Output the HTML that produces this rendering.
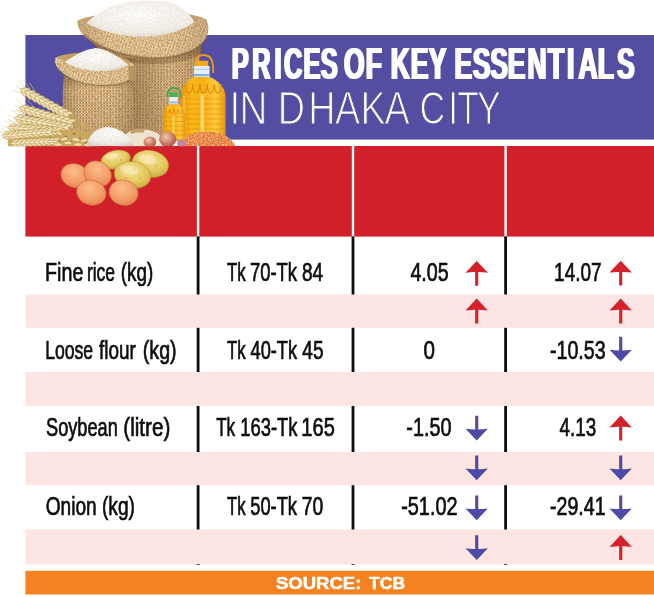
<!DOCTYPE html>
<html lang="en"><head><meta charset="utf-8"><title>Prices of key essentials in Dhaka city</title>
<style>html,body{margin:0;padding:0;background:#fff}svg{display:block}text{font-family:"Liberation Sans",sans-serif}</style></head>
<body>
<svg width="654" height="597" viewBox="0 0 654 597">
<rect x="25.4" y="35" width="629" height="104.600" fill="#534ea2"/>
<rect x="25.4" y="146" width="629" height="90.600" fill="#d2202a"/>
<rect x="196.9" y="146" width="2.4" height="90.600" fill="#fff"/>
<rect x="351.8" y="146" width="2.4" height="90.600" fill="#fff"/>
<rect x="504.4" y="146" width="2.4" height="90.600" fill="#fff"/>
<rect x="25.4" y="294.5" width="629" height="33.3" fill="#fce5e2"/>
<rect x="25.4" y="372.0" width="629" height="34.0" fill="#fce5e2"/>
<rect x="25.4" y="452.0" width="629" height="33.2" fill="#fce5e2"/>
<rect x="25.4" y="529.5" width="629" height="34.9" fill="#fce5e2"/>
<rect x="196.7" y="236.4" width="2.8" height="58.1" fill="#0d0d0d"/>
<rect x="351.6" y="236.4" width="2.8" height="58.1" fill="#0d0d0d"/>
<rect x="504.2" y="236.4" width="2.8" height="58.1" fill="#0d0d0d"/>
<rect x="196.7" y="327.8" width="2.8" height="44.2" fill="#0d0d0d"/>
<rect x="351.6" y="327.8" width="2.8" height="44.2" fill="#0d0d0d"/>
<rect x="504.2" y="327.8" width="2.8" height="44.2" fill="#0d0d0d"/>
<rect x="196.7" y="406.0" width="2.8" height="46.0" fill="#0d0d0d"/>
<rect x="351.6" y="406.0" width="2.8" height="46.0" fill="#0d0d0d"/>
<rect x="504.2" y="406.0" width="2.8" height="46.0" fill="#0d0d0d"/>
<rect x="196.7" y="485.2" width="2.8" height="44.3" fill="#0d0d0d"/>
<rect x="351.6" y="485.2" width="2.8" height="44.3" fill="#0d0d0d"/>
<rect x="504.2" y="485.2" width="2.8" height="44.3" fill="#0d0d0d"/>
<rect x="196.6" y="564.1" width="3" height="0.9" fill="#333"/>
<rect x="351.5" y="564.1" width="3" height="0.9" fill="#333"/>
<rect x="504.1" y="564.1" width="3" height="0.9" fill="#333"/>
<rect x="25.4" y="570.800" width="629" height="23.700" fill="#f58220"/>
<defs><filter id="fat" x="-5%" y="-5%" width="110%" height="110%"><feMorphology operator="dilate" radius="1 0"/></filter></defs><defs>
  <pattern id="bur" width="3" height="3" patternUnits="userSpaceOnUse">
    <rect width="3" height="3" fill="#d8b27c"/>
    <rect width="1.5" height="1.5" fill="#f1dcb2"/>
    <rect x="1.5" y="1.5" width="1.5" height="1.5" fill="#e4c391"/>
    <rect x="1.5" y="0" width="1.5" height="1.5" fill="#b4824c"/>
  </pattern>
  <pattern id="bur2" width="3" height="3" patternUnits="userSpaceOnUse" patternTransform="rotate(18)">
    <rect width="3" height="3" fill="#e2c08c"/>
    <rect width="1.5" height="1.5" fill="#f8e9c6"/>
    <rect x="1.5" y="1.5" width="1.5" height="1.5" fill="#eed3a4"/>
    <rect x="1.5" y="0" width="1.5" height="1.5" fill="#c0915a"/>
  </pattern>
  <linearGradient id="sackShade" x1="0" y1="0" x2="1" y2="0">
    <stop offset="0" stop-color="#6b4a25" stop-opacity=".35"/>
    <stop offset=".25" stop-color="#6b4a25" stop-opacity="0"/>
    <stop offset=".7" stop-color="#6b4a25" stop-opacity="0"/>
    <stop offset="1" stop-color="#6b4a25" stop-opacity=".3"/>
  </linearGradient>
  <linearGradient id="sackShadeV" x1="0" y1="0" x2="0" y2="1">
    <stop offset="0" stop-color="#5a3c1c" stop-opacity=".45"/>
    <stop offset=".25" stop-color="#5a3c1c" stop-opacity="0"/>
    <stop offset="1" stop-color="#5a3c1c" stop-opacity=".15"/>
  </linearGradient>
  <linearGradient id="between" gradientUnits="userSpaceOnUse" x1="128" y1="0" x2="172" y2="0">
    <stop offset="0" stop-color="#5a3a18" stop-opacity=".38"/>
    <stop offset="1" stop-color="#5a3a18" stop-opacity="0"/>
  </linearGradient>
  <radialGradient id="rice" cx=".5" cy=".35" r=".7">
    <stop offset="0" stop-color="#ffffff"/>
    <stop offset=".7" stop-color="#f3efe8"/>
    <stop offset="1" stop-color="#d9d2c4"/>
  </radialGradient>
  <linearGradient id="oil" x1="0" y1="0" x2="1" y2="0">
    <stop offset="0" stop-color="#e8940e"/>
    <stop offset=".25" stop-color="#f9b81a"/>
    <stop offset=".5" stop-color="#f7ad16"/>
    <stop offset=".78" stop-color="#fdcb3c"/>
    <stop offset="1" stop-color="#ea9710"/>
  </linearGradient>
  <radialGradient id="egg" cx=".4" cy=".35" r=".75">
    <stop offset="0" stop-color="#fabd8c"/>
    <stop offset=".6" stop-color="#f39c66"/>
    <stop offset="1" stop-color="#e07a46"/>
  </radialGradient>
  <radialGradient id="pot" cx=".45" cy=".35" r=".75">
    <stop offset="0" stop-color="#f4e29a"/>
    <stop offset=".6" stop-color="#e3c55a"/>
    <stop offset="1" stop-color="#bd9a36"/>
  </radialGradient>
  <radialGradient id="onion" cx=".4" cy=".35" r=".7">
    <stop offset="0" stop-color="#f1c9b4"/>
    <stop offset=".55" stop-color="#cf8268"/>
    <stop offset="1" stop-color="#9c4f3e"/>
  </radialGradient>
  <g id="ear">
    <path d="M0,0 L84,0" stroke="#c9a85e" stroke-width="1.2" fill="none"/>
    <g fill="#f1e2b2" stroke="#a9843c" stroke-width=".55">
    <ellipse cx="4.0" cy="-2.3" rx="4.0" ry="1.7" transform="rotate(-22 4.0 -2.3)"/>
    <ellipse cx="4.0" cy="2.3" rx="4.0" ry="1.7" transform="rotate(22 4.0 2.3)"/>
    <ellipse cx="9.4" cy="-2.3" rx="4.6" ry="1.7" transform="rotate(-22 9.4 -2.3)"/>
    <ellipse cx="9.4" cy="2.3" rx="4.6" ry="1.7" transform="rotate(22 9.4 2.3)"/>
    <ellipse cx="14.8" cy="-2.3" rx="4.6" ry="1.7" transform="rotate(-22 14.8 -2.3)"/>
    <ellipse cx="14.8" cy="2.3" rx="4.6" ry="1.7" transform="rotate(22 14.8 2.3)"/>
    <ellipse cx="20.2" cy="-2.3" rx="4.6" ry="1.7" transform="rotate(-22 20.2 -2.3)"/>
    <ellipse cx="20.2" cy="2.3" rx="4.6" ry="1.7" transform="rotate(22 20.2 2.3)"/>
    <ellipse cx="25.6" cy="-2.3" rx="4.6" ry="1.7" transform="rotate(-22 25.6 -2.3)"/>
    <ellipse cx="25.6" cy="2.3" rx="4.6" ry="1.7" transform="rotate(22 25.6 2.3)"/>
    <ellipse cx="31.0" cy="-2.3" rx="4.6" ry="1.7" transform="rotate(-22 31.0 -2.3)"/>
    <ellipse cx="31.0" cy="2.3" rx="4.6" ry="1.7" transform="rotate(22 31.0 2.3)"/>
    <ellipse cx="36.4" cy="-2.3" rx="4.6" ry="1.7" transform="rotate(-22 36.4 -2.3)"/>
    <ellipse cx="36.4" cy="2.3" rx="4.6" ry="1.7" transform="rotate(22 36.4 2.3)"/>
    <ellipse cx="41.8" cy="-2.3" rx="4.6" ry="1.7" transform="rotate(-22 41.8 -2.3)"/>
    <ellipse cx="41.8" cy="2.3" rx="4.6" ry="1.7" transform="rotate(22 41.8 2.3)"/>
    <ellipse cx="47.2" cy="-2.3" rx="4.6" ry="1.7" transform="rotate(-22 47.2 -2.3)"/>
    <ellipse cx="47.2" cy="2.3" rx="4.6" ry="1.7" transform="rotate(22 47.2 2.3)"/>
    <ellipse cx="52.6" cy="-2.3" rx="4.0" ry="1.7" transform="rotate(-22 52.6 -2.3)"/>
    <ellipse cx="52.6" cy="2.3" rx="4.0" ry="1.7" transform="rotate(22 52.6 2.3)"/>
    </g><g fill="#fbf2d2" stroke="#b08a40" stroke-width=".4">
    <ellipse cx="2.0" cy="0" rx="3.4" ry="1.3"/>
    <ellipse cx="7.4" cy="0" rx="3.4" ry="1.3"/>
    <ellipse cx="12.8" cy="0" rx="3.4" ry="1.3"/>
    <ellipse cx="18.2" cy="0" rx="3.4" ry="1.3"/>
    <ellipse cx="23.6" cy="0" rx="3.4" ry="1.3"/>
    <ellipse cx="29.0" cy="0" rx="3.4" ry="1.3"/>
    <ellipse cx="34.4" cy="0" rx="3.4" ry="1.3"/>
    <ellipse cx="39.8" cy="0" rx="3.4" ry="1.3"/>
    <ellipse cx="45.2" cy="0" rx="3.4" ry="1.3"/>
    <ellipse cx="50.6" cy="0" rx="3.4" ry="1.3"/>
    </g>
    <g stroke="#e2cf95" stroke-width=".5"><path d="M3,-3 L-6,-7 M8,-4 L-2,-9 M3,3 L-7,5 M14,-4 L4,-10 M1,0 L-8,-1"/></g>
    </g>
  <filter id="noise" x="0" y="0" width="100%" height="100%">
    <feTurbulence type="fractalNoise" baseFrequency="0.55" numOctaves="2" seed="7" result="n"/>
    <feColorMatrix in="n" type="matrix" values="0 0 0 0 0.42  0 0 0 0 0.26  0 0 0 0 0.1  0 0 0 2.2 -0.95" result="dark"/>
    <feColorMatrix in="n" type="matrix" values="0 0 0 0 1  0 0 0 0 0.93  0 0 0 0 0.78  0 0 -2.2 0 0.85" result="light"/>
    <feMerge result="m"><feMergeNode in="SourceGraphic"/><feMergeNode in="light"/><feMergeNode in="dark"/></feMerge>
    <feComposite in="m" in2="SourceGraphic" operator="in"/>
  </filter>
  <filter id="speck" x="0" y="0" width="100%" height="100%">
    <feTurbulence type="fractalNoise" baseFrequency="0.7" numOctaves="2" seed="3" result="n"/>
    <feColorMatrix in="n" type="matrix" values="0 0 0 0 0.97  0 0 0 0 0.66  0 0 0 0 0.36  0 0 2.600 0 -1.150" result="light"/>
    <feColorMatrix in="n" type="matrix" values="0 0 0 0 0.72  0 0 0 0 0.30  0 0 0 0 0.10  0 2.400 0 0 -1.100" result="dark"/>
    <feMerge result="m"><feMergeNode in="SourceGraphic"/><feMergeNode in="light"/><feMergeNode in="dark"/></feMerge>
    <feComposite in="m" in2="SourceGraphic" operator="in"/>
  </filter>
  <filter id="grain" x="0" y="0" width="100%" height="100%">
    <feTurbulence type="fractalNoise" baseFrequency="0.8" numOctaves="2" seed="11" result="n"/>
    <feColorMatrix in="n" type="matrix" values="0 0 0 0 0.70  0 0 0 0 0.66  0 0 0 0 0.58  0 0 1.800 0 -0.800" result="dark"/>
    <feMerge result="m"><feMergeNode in="SourceGraphic"/><feMergeNode in="dark"/></feMerge>
    <feComposite in="m" in2="SourceGraphic" operator="in"/>
  </filter>
  <clipPath id="foodclip"><rect x="0" y="0" width="260" height="146.2"/></clipPath>
</defs>
<g clip-path="url(#foodclip)">
  <!-- big sack body -->
  <path id="bigbody" d="M84,34 C92,44 100,50 108,54 L118,140 L200,142 C198,110 194,80 203,40 C180,60 120,58 84,34 Z" fill="url(#bur)" filter="url(#noise)"/>
  <path d="M84,34 C92,44 100,50 108,54 L118,140 L200,142 C198,110 194,80 203,40 C180,60 120,58 84,34 Z" fill="url(#sackShade)"/>
  <path d="M84,34 C92,44 100,50 108,54 L118,140 L200,142 C198,110 194,80 203,40 C180,60 120,58 84,34 Z" fill="url(#sackShadeV)"/>
  <path d="M108,54 C122,58 140,60 172,58 L172,140 L118,140 Z" fill="url(#between)"/>
  <path d="M84,34 C98,48 128,58 156,58 C176,58 196,52 203,42 L202,52 C190,66 130,70 100,52 Z" fill="#5a3a18" opacity=".28"/>
  <!-- big sack back rim -->
  <path d="M77.500,21 C95,10 190,8 206.500,20 L205,30 L82,30 Z" fill="#c3a06c"/>
  <!-- rice -->
  <path d="M85,24 C92,17 104,8 120,3.500 C132,0.500 150,-0.500 166,1.500 C180,4 190,13 195,23 C170,44 120,42 85,24 Z" fill="url(#rice)" filter="url(#grain)"/>
  <!-- big sack front rim -->
  <path d="M77.500,21 C80,18.500 84,19.500 88,24 C118,40 165,42 193,23 C198,18 203,17 206.500,20 C209.500,26 209,34 205,40 C196,52 176,58 156,58 C128,58 98,48 84,36 C79,30 76.500,25 77.500,21 Z" fill="url(#bur2)" filter="url(#noise)"/>
  <path d="M77.500,21 C80,18.500 84,19.500 88,24 C118,40 165,42 193,23 C198,18 203,17 206.500,20 C209.500,26 209,34 205,40 C196,52 176,58 156,58 C128,58 98,48 84,36 C79,30 76.500,25 77.500,21 Z" fill="url(#sackShade)" opacity=".6"/>
  <path d="M84,34 C98,48 128,58 156,58 C176,58 196,52 205,40" fill="none" stroke="#7a5630" stroke-opacity=".45" stroke-width="2"/>
  <!-- small sack body -->
  <path d="M64,74 C62,95 62,118 66,142 L134,142 C136,120 134,98 131,72 C110,88 80,86 62,74 Z" fill="url(#bur)" filter="url(#noise)"/>
  <path d="M64,74 C62,95 62,118 66,142 L134,142 C136,120 134,98 131,72 C110,88 80,86 62,74 Z" fill="url(#sackShade)"/>
  <path d="M64,74 C62,95 62,118 66,142 L134,142 C136,120 134,98 131,72 C110,88 80,86 62,74 Z" fill="url(#sackShadeV)"/>
  <!-- small sack back rim -->
  <path d="M55,58 C70,50 120,50 133,64 L130,70 L60,70 Z" fill="#c3a06c"/>
  <!-- flour -->
  <path d="M64,62 C74,56 84,49 95,48 C106,48 118,56 129,65 C112,76 82,74 64,62 Z" fill="url(#rice)" filter="url(#grain)"/>
  <!-- small sack front rim -->
  <path d="M55,58 C57,56 61,58 65,62 C84,73 110,74 128,65 C130,62 132,62 134,65 C136,70 134,76 130,80 C120,86 104,86 94,85 C80,84 66,78 59,70 C55,65 54,61 55,58 Z" fill="url(#bur2)" filter="url(#noise)"/>
  <path d="M59,70 C66,78 80,84 94,85 C104,86 120,86 130,80" fill="none" stroke="#7a5630" stroke-opacity=".45" stroke-width="1.6"/>
  <path d="M128,66 L134,66 L136,82 L129,80 Z" fill="#b8945f"/>
  <!-- string -->
  <path d="M113,107 C116,112 112,118 115,123" stroke="#d9c39a" stroke-width="1" fill="none"/>
  <!-- big bottle -->
  <path d="M196.500,62 C196,55.500 202,54.300 206.500,55.500 C212,57 213.200,62 213.200,73" fill="none" stroke="#f2961a" stroke-width="1.9"/>
  <rect x="195.300" y="60.800" width="13" height="5.600" rx="1" fill="#f6a81c"/>
  <rect x="194" y="66" width="15.500" height="11.500" fill="#e6eef6"/>
  <rect x="194" y="68.500" width="15.500" height="1.500" fill="#b9d3ec"/>
  <rect x="194" y="74" width="15.500" height="2.200" fill="#86b1de"/>
  <path d="M194,77 L209.500,77 C217,80 225,86 225.500,96 L225.500,134 Q225.500,138.500 221,138.500 L185,138.500 Q180.500,138.500 180.500,134 L180.500,96 C181,86 188,80 194,77 Z" fill="url(#oil)"/>
  <path d="M185.500,84 q0.500,9 3.600,9 q3.100,0 3.600,-9 q0.500,9 3.600,9 q3.100,0 3.600,-9 q0.500,9 3.600,9 q3.100,0 3.600,-9 q0.500,9 3.600,9 q3.100,0 3.600,-9 q0.500,9 3.600,9 q3.100,0 3.600,-9" fill="none" stroke="#d77f06" stroke-width="1.100" opacity=".85"/>
  <g stroke="#de8a0a" stroke-width=".8" opacity=".75"><path d="M181,99 H225 M181,104 H225 M181,109 H225 M181,114 H225 M181,119 H225 M181,124 H225 M181,129 H225 M181,134 H225"/></g>
  <rect x="200.500" y="94" width="3.600" height="40" fill="#ffe68a" opacity=".75"/>
  <rect x="183" y="96" width="2.500" height="38" fill="#ffd45a" opacity=".5"/>
  <!-- small bottle -->
  <path d="M167.600,97 C166.600,89.500 171.500,87.600 175,88 C179.500,88.500 181,92 180.400,97.500" fill="none" stroke="#3aa845" stroke-width="1.700"/>
  <rect x="169.300" y="92.500" width="8.400" height="4.500" rx=".8" fill="#45b34f"/>
  <rect x="169.300" y="97" width="8.400" height="7.500" fill="#e8f0f5"/>
  <rect x="169.300" y="101.500" width="8.400" height="1.800" fill="#8fb9e2"/>
  <path d="M169.300,104.500 L177.700,104.500 C182,107 185,110 185,115 L185,136 Q185,139.500 182,139.500 L166,139.500 Q163,139.500 163,136 L163,115 C163,110 165.500,107 169.300,104.500 Z" fill="url(#oil)"/>
  <path d="M165.500,109 q0.400,5 2.100,5 q1.700,0 2.100,-5 q0.400,5 2.100,5 q1.700,0 2.100,-5 q0.400,5 2.100,5 q1.700,0 2.100,-5 q0.400,5 2.100,5 q1.700,0 2.100,-5" fill="none" stroke="#d77f06" stroke-width=".8" opacity=".8"/>
  <g stroke="#de8a0a" stroke-width=".7" opacity=".75"><path d="M163,117 H185 M163,121.500 H185 M163,126 H185 M163,130.500 H185 M163,135 H185"/></g>
  <rect x="172.500" y="116" width="2" height="20" fill="#ffe68a" opacity=".7"/>
  <!-- lentils -->
  <path d="M178.500,146.500 C181,139 190,132.600 201,132 C208,131.600 214,131.800 219,133 C227,135 233,140 235.800,146.500 Z" fill="#e2762e" filter="url(#speck)"/>
  <!-- wheat -->
  <g>
    <path d="M8,140 C22,129 60,125 90,133 L98,147 L8,147 Z" fill="#c8a862"/>
    <g fill="#8a6228" opacity=".7"><circle cx="58" cy="133" r="1.3"/><circle cx="66" cy="137" r="1.4"/><circle cx="74" cy="133.500" r="1.2"/><circle cx="80" cy="139" r="1.4"/><circle cx="61" cy="141" r="1.3"/><circle cx="71" cy="142" r="1.3"/><circle cx="50" cy="138" r="1.2"/><circle cx="86" cy="143" r="1.2"/><circle cx="40" cy="141" r="1.1"/></g>
    <use href="#ear" transform="translate(21.5,89.5) rotate(29)"/>
    <use href="#ear" transform="translate(20.5,108) rotate(16.500)"/>
    <use href="#ear" transform="translate(16,118) rotate(11)"/>
    <use href="#ear" transform="translate(9,127.500) rotate(4) scale(.95)"/>
    <use href="#ear" transform="translate(3,136) rotate(-5) scale(.9)"/>
    <use href="#ear" transform="translate(12,143.500) rotate(-3) scale(.85)"/>
    <g fill="#f0e0ae" stroke="#a9843c" stroke-width=".4">
      <ellipse cx="58" cy="144.500" rx="4" ry="1.7"/><ellipse cx="68" cy="143" rx="4" ry="1.7"/><ellipse cx="78" cy="144.500" rx="4" ry="1.7"/><ellipse cx="88" cy="145" rx="4" ry="1.7"/>
      <ellipse cx="64" cy="139" rx="4" ry="1.7" transform="rotate(-15 64 139)"/><ellipse cx="76" cy="139.500" rx="4" ry="1.7" transform="rotate(10 76 139.500)"/><ellipse cx="84" cy="140.500" rx="3.6" ry="1.6" transform="rotate(-10 84 140.500)"/>
    </g>
  </g>
  <!-- scoop / cloth -->
  <path d="M120,146.500 C122,136 128,130.500 136,129.500 C146,128.300 156,131 160.500,136 C163,139 164,143 164,146.500 Z" fill="#efe4cf"/>
  <path d="M130,131.500 C134,128.600 141,128 145,129.600 L143,133 C139,132 134,132.600 131.500,134 Z" fill="#c8a16a"/>
  <!-- flour pile -->
  <path d="M86,146.500 C88,136 96,127.500 106,127 C116,126.600 128,132 135,146.500 Z" fill="url(#rice)" filter="url(#grain)"/>
  <!-- onions -->
  <ellipse cx="149.800" cy="142" rx="6.300" ry="5.600" fill="url(#onion)"/>
  <ellipse cx="167.700" cy="139.300" rx="8.600" ry="7.800" fill="url(#onion)"/>
  <ellipse cx="181.600" cy="143.500" rx="4.600" ry="3.600" fill="#c585a0"/>
</g>
<!-- eggs and potatoes -->
<g>
  <ellipse cx="115.6" cy="159.6" rx="15" ry="9.3" fill="url(#pot)" stroke="#9a7a22" stroke-opacity=".5" stroke-width=".7" transform="rotate(-12 115.6 158.9)"/>
  <ellipse cx="150.4" cy="163.9" rx="18.5" ry="13.5" fill="url(#pot)" stroke="#9a7a22" stroke-opacity=".5" stroke-width=".7" transform="rotate(12 150.4 163.9)"/>
  <ellipse cx="132.5" cy="175" rx="18.5" ry="13.5" fill="url(#pot)" stroke="#9a7a22" stroke-opacity=".5" stroke-width=".7" transform="rotate(10 132.5 175)"/>
  <g fill="#fbf1c4" opacity=".55"><ellipse cx="112" cy="156" rx="7" ry="3" transform="rotate(-12 112 156)"/><ellipse cx="147" cy="159" rx="9" ry="4.500" transform="rotate(12 147 159)"/><ellipse cx="129" cy="170" rx="9" ry="4.500" transform="rotate(10 129 170)"/></g>
  <g fill="#9c7a2a" opacity=".6"><circle cx="121" cy="160" r=".7"/><circle cx="156" cy="166" r=".8"/><circle cx="140" cy="178" r=".8"/><circle cx="126" cy="178" r=".7"/><circle cx="150" cy="171" r=".6"/><circle cx="135" cy="169" r=".6"/><circle cx="109" cy="161" r=".6"/></g>
  <ellipse cx="75" cy="175.8" rx="14.5" ry="12" fill="url(#egg)" stroke="#b9552e" stroke-opacity=".55" stroke-width=".8" transform="rotate(20 75 175.8)"/>
  <ellipse cx="97.7" cy="173.8" rx="14.5" ry="12.3" fill="url(#egg)" stroke="#b9552e" stroke-opacity=".55" stroke-width=".8" transform="rotate(35 97.7 173.8)"/>
  <ellipse cx="91.4" cy="192.7" rx="15" ry="12.5" fill="url(#egg)" stroke="#b9552e" stroke-opacity=".55" stroke-width=".8" transform="rotate(15 91.4 192.7)"/>
  <ellipse cx="123.6" cy="192.7" rx="14.8" ry="12.8" fill="url(#egg)" stroke="#b9552e" stroke-opacity=".55" stroke-width=".8" transform="rotate(15 123.6 192.7)"/>
</g>

<path transform="translate(476.7,261.0)" fill="#d5212b" d="M0,0 L11.2,11.8 Q5,11 1.55,11.1 V24.8 H-1.55 V11.1 Q-5,11 -11.2,11.8 Z"/>
<path transform="translate(620.7,260.8)" fill="#d5212b" d="M0,0 L11.2,11.8 Q5,11 1.55,11.1 V24.8 H-1.55 V11.1 Q-5,11 -11.2,11.8 Z"/>
<path transform="translate(476.7,298.6)" fill="#d5212b" d="M0,0 L11.2,11.8 Q5,11 1.55,11.1 V24.8 H-1.55 V11.1 Q-5,11 -11.2,11.8 Z"/>
<path transform="translate(620.7,298.6)" fill="#d5212b" d="M0,0 L11.2,11.8 Q5,11 1.55,11.1 V24.8 H-1.55 V11.1 Q-5,11 -11.2,11.8 Z"/>
<path transform="translate(620.7,361.6) scale(1,-1)" fill="#4f4aa6" d="M0,0 L11.2,11.8 Q5,11 1.55,11.1 V24.8 H-1.55 V11.1 Q-5,11 -11.2,11.8 Z"/>
<path transform="translate(476.7,440.5) scale(1,-1)" fill="#4f4aa6" d="M0,0 L11.2,11.8 Q5,11 1.55,11.1 V24.8 H-1.55 V11.1 Q-5,11 -11.2,11.8 Z"/>
<path transform="translate(620.7,415.6)" fill="#d5212b" d="M0,0 L11.2,11.8 Q5,11 1.55,11.1 V24.8 H-1.55 V11.1 Q-5,11 -11.2,11.8 Z"/>
<path transform="translate(476.7,480.3) scale(1,-1)" fill="#4f4aa6" d="M0,0 L11.2,11.8 Q5,11 1.55,11.1 V24.8 H-1.55 V11.1 Q-5,11 -11.2,11.8 Z"/>
<path transform="translate(620.7,480.3) scale(1,-1)" fill="#4f4aa6" d="M0,0 L11.2,11.8 Q5,11 1.55,11.1 V24.8 H-1.55 V11.1 Q-5,11 -11.2,11.8 Z"/>
<path transform="translate(476.7,520.2) scale(1,-1)" fill="#4f4aa6" d="M0,0 L11.2,11.8 Q5,11 1.55,11.1 V24.8 H-1.55 V11.1 Q-5,11 -11.2,11.8 Z"/>
<path transform="translate(620.7,520.2) scale(1,-1)" fill="#4f4aa6" d="M0,0 L11.2,11.8 Q5,11 1.55,11.1 V24.8 H-1.55 V11.1 Q-5,11 -11.2,11.8 Z"/>
<path transform="translate(476.7,560.0) scale(1,-1)" fill="#4f4aa6" d="M0,0 L11.2,11.8 Q5,11 1.55,11.1 V24.8 H-1.55 V11.1 Q-5,11 -11.2,11.8 Z"/>
<path transform="translate(620.7,535.1)" fill="#d5212b" d="M0,0 L11.2,11.8 Q5,11 1.55,11.1 V24.8 H-1.55 V11.1 Q-5,11 -11.2,11.8 Z"/>
<text transform="translate(0,79.30) scale(0.5750,1)" x="402.95 438.88 477.37 494.00 527.91 557.81" font-size="44.04" font-weight="700" fill="#fff" filter="url(#fat)">PRICES</text>
<text transform="translate(0,79.30) scale(0.6000,1)" x="573.21 609.73" font-size="44.04" font-weight="700" fill="#fff" filter="url(#fat)">OF</text>
<text transform="translate(0,79.30) scale(0.6000,1)" x="651.30 684.52 714.54" font-size="44.04" font-weight="700" fill="#fff" filter="url(#fat)">KEY</text>
<text transform="translate(0,79.30) scale(0.6000,1)" x="757.60 787.80 817.30 846.43 879.01 913.16 945.06 964.17 996.22 1028.30" font-size="44.04" font-weight="700" fill="#fff" filter="url(#fat)">ESSENTIALS</text>
<text transform="translate(0,124.00) scale(0.8500,1)" x="270.08 281.83" font-size="45.49" font-weight="400" fill="#fff" stroke="#534ea2" stroke-width="1.2">IN</text>
<text transform="translate(0,124.00) scale(0.8300,1)" x="334.63 371.30 403.63 434.50 463.33" font-size="45.49" font-weight="400" fill="#fff" stroke="#534ea2" stroke-width="1.2">DHAKA</text>
<text transform="translate(0,124.00) scale(0.7800,1)" x="537.78 574.79 586.20 611.70" font-size="45.49" font-weight="400" fill="#fff" stroke="#534ea2" stroke-width="1.2">CITY</text>
<text transform="translate(45.06,280.60) scale(0.7575,1)" font-size="26.02" font-weight="400" fill="#0d0d0d" stroke="#0d0d0d" stroke-width="0.7">Fine</text>
<text transform="translate(86.91,280.60) scale(0.6727,1)" font-size="26.02" font-weight="400" fill="#0d0d0d" stroke="#0d0d0d" stroke-width="0.7">rice</text>
<text transform="translate(120.82,280.60) scale(0.7244,1)" font-size="26.02" font-weight="400" fill="#0d0d0d" stroke="#0d0d0d" stroke-width="0.7">(kg)</text>
<text transform="translate(227.04,280.60) scale(0.6436,1)" font-size="26.02" font-weight="400" fill="#0d0d0d" stroke="#0d0d0d" stroke-width="0.7">Tk</text>
<text transform="translate(249.94,280.60) scale(0.7079,1)" font-size="26.02" font-weight="400" fill="#0d0d0d" stroke="#0d0d0d" stroke-width="0.7">70-Tk</text>
<text transform="translate(302.01,280.60) scale(0.7315,1)" font-size="26.02" font-weight="400" fill="#0d0d0d" stroke="#0d0d0d" stroke-width="0.7">84</text>
<text transform="translate(410.39,280.60) scale(0.7565,1)" font-size="26.02" font-weight="400" fill="#0d0d0d" stroke="#0d0d0d" stroke-width="0.7">4.05</text>
<text transform="translate(554.11,280.60) scale(0.7289,1)" font-size="26.02" font-weight="400" fill="#0d0d0d" stroke="#0d0d0d" stroke-width="0.7">14.07</text>
<text transform="translate(45.23,358.70) scale(0.6755,1)" font-size="26.02" font-weight="400" fill="#0d0d0d" stroke="#0d0d0d" stroke-width="0.7">Loose</text>
<text transform="translate(99.00,358.70) scale(0.7269,1)" font-size="26.02" font-weight="400" fill="#0d0d0d" stroke="#0d0d0d" stroke-width="0.7">flour</text>
<text transform="translate(142.78,358.70) scale(0.7552,1)" font-size="26.02" font-weight="400" fill="#0d0d0d" stroke="#0d0d0d" stroke-width="0.7">(kg)</text>
<text transform="translate(227.04,358.70) scale(0.6436,1)" font-size="26.02" font-weight="400" fill="#0d0d0d" stroke="#0d0d0d" stroke-width="0.7">Tk</text>
<text transform="translate(250.52,358.70) scale(0.6992,1)" font-size="26.02" font-weight="400" fill="#0d0d0d" stroke="#0d0d0d" stroke-width="0.7">40-Tk</text>
<text transform="translate(302.30,358.70) scale(0.7315,1)" font-size="26.02" font-weight="400" fill="#0d0d0d" stroke="#0d0d0d" stroke-width="0.7">45</text>
<text transform="translate(423.46,358.70) scale(0.7918,1)" font-size="26.02" font-weight="400" fill="#0d0d0d" stroke="#0d0d0d" stroke-width="0.7">0</text>
<text transform="translate(549.99,358.70) scale(0.7538,1)" font-size="26.02" font-weight="400" fill="#0d0d0d" stroke="#0d0d0d" stroke-width="0.7">-10.53</text>
<text transform="translate(46.03,436.20) scale(0.6989,1)" font-size="26.02" font-weight="400" fill="#0d0d0d" stroke="#0d0d0d" stroke-width="0.7">Soybean</text>
<text transform="translate(123.23,436.20) scale(0.7974,1)" font-size="26.02" font-weight="400" fill="#0d0d0d" stroke="#0d0d0d" stroke-width="0.7">(litre)</text>
<text transform="translate(216.23,436.20) scale(0.6540,1)" font-size="26.02" font-weight="400" fill="#0d0d0d" stroke="#0d0d0d" stroke-width="0.7">Tk</text>
<text transform="translate(240.35,436.20) scale(0.7059,1)" font-size="26.02" font-weight="400" fill="#0d0d0d" stroke="#0d0d0d" stroke-width="0.7">163-Tk</text>
<text transform="translate(301.35,436.20) scale(0.7710,1)" font-size="26.02" font-weight="400" fill="#0d0d0d" stroke="#0d0d0d" stroke-width="0.7">165</text>
<text transform="translate(406.28,436.20) scale(0.7624,1)" font-size="26.02" font-weight="400" fill="#0d0d0d" stroke="#0d0d0d" stroke-width="0.7">-1.50</text>
<text transform="translate(559.51,436.20) scale(0.7239,1)" font-size="26.02" font-weight="400" fill="#0d0d0d" stroke="#0d0d0d" stroke-width="0.7">4.13</text>
<text transform="translate(45.70,514.50) scale(0.7341,1)" font-size="26.02" font-weight="400" fill="#0d0d0d" stroke="#0d0d0d" stroke-width="0.7">Onion</text>
<text transform="translate(102.00,514.50) scale(0.7363,1)" font-size="26.02" font-weight="400" fill="#0d0d0d" stroke="#0d0d0d" stroke-width="0.7">(kg)</text>
<text transform="translate(227.04,514.50) scale(0.6436,1)" font-size="26.02" font-weight="400" fill="#0d0d0d" stroke="#0d0d0d" stroke-width="0.7">Tk</text>
<text transform="translate(250.23,514.50) scale(0.7035,1)" font-size="26.02" font-weight="400" fill="#0d0d0d" stroke="#0d0d0d" stroke-width="0.7">50-Tk</text>
<text transform="translate(301.69,514.50) scale(0.7425,1)" font-size="26.02" font-weight="400" fill="#0d0d0d" stroke="#0d0d0d" stroke-width="0.7">70</text>
<text transform="translate(401.18,514.50) scale(0.7649,1)" font-size="26.02" font-weight="400" fill="#0d0d0d" stroke="#0d0d0d" stroke-width="0.7">-51.02</text>
<text transform="translate(550.09,514.50) scale(0.7524,1)" font-size="26.02" font-weight="400" fill="#0d0d0d" stroke="#0d0d0d" stroke-width="0.7">-29.41</text>
<text transform="translate(276.01,588.90) scale(1.0711,1)" font-size="17.30" font-weight="700" fill="#fff" stroke="#fff" stroke-width="0.5">SOURCE:</text>
<text transform="translate(369.10,588.90) scale(1.0129,1)" font-size="17.30" font-weight="700" fill="#fff" stroke="#fff" stroke-width="0.5">TCB</text>
</svg>
</body></html>
